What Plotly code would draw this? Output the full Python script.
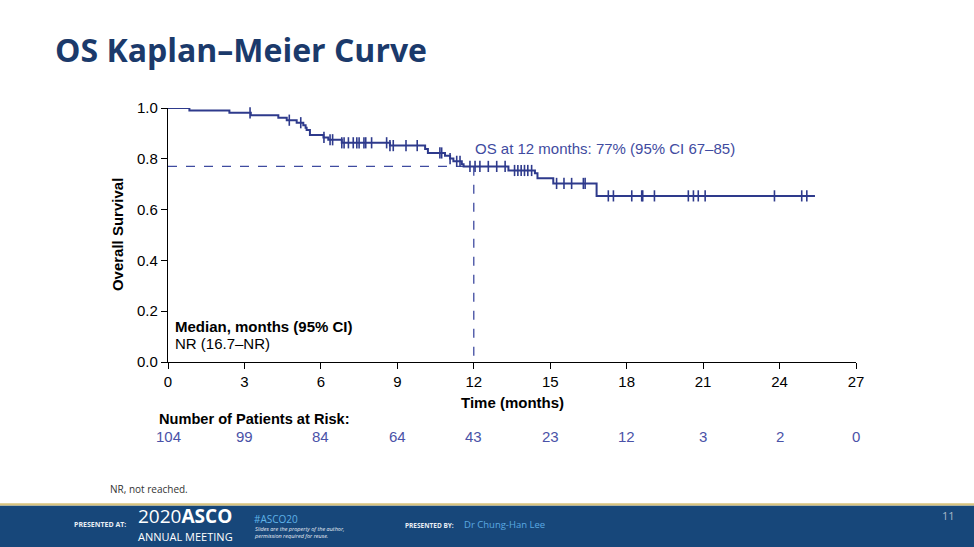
import plotly.graph_objects as go

# Kaplan-Meier step data (time in months, survival probability)
step_times = [0, 0.84, 2.41, 3.25, 4.33, 4.66, 5.05, 5.31, 5.40, 5.44, 5.57, 6.10, 6.29, 6.82,
              8.71, 10.09, 10.20, 10.87, 11.07, 11.20, 11.53, 11.60, 13.36, 14.40, 14.50,
              15.12, 16.82]
step_surv = [1.0, 0.990, 0.981, 0.971, 0.962, 0.952, 0.942, 0.932, 0.922, 0.913, 0.894,
             0.884, 0.875, 0.863, 0.852, 0.839, 0.823, 0.812, 0.801, 0.790, 0.779, 0.770,
             0.754, 0.743, 0.723, 0.703, 0.654]
end_time = 25.39

censor_times = [3.22, 4.76, 5.21, 6.12, 6.36, 6.46, 6.82, 6.91, 7.08, 7.27, 7.41, 7.50,
                7.69, 7.76, 7.99, 8.58, 8.71, 8.84, 9.34, 9.78, 10.67, 10.74, 11.07, 11.33,
                11.46, 11.85, 12.05, 12.24, 12.57, 12.90, 13.23, 13.60, 13.73, 13.86, 13.99,
                14.12, 14.27, 15.25, 15.54, 15.84, 16.30, 16.37, 17.28, 17.48, 18.20, 18.59,
                18.63, 19.09, 20.42, 20.62, 20.81, 21.08, 23.80, 24.87, 25.07]

x_ticks = [0, 3, 6, 9, 12, 15, 18, 21, 24, 27]
y_ticks = [0.0, 0.2, 0.4, 0.6, 0.8, 1.0]
y_tick_labels = ["0.0", "0.2", "0.4", "0.6", "0.8", "1.0"]
risk_times = [0, 3, 6, 9, 12, 15, 18, 21, 24, 27]
at_risk = [104, 99, 84, 64, 43, 23, 12, 3, 2, 0]

os12_time = 12
os12_surv = 0.77

CURVE = "#2e3a8c"
ANNOT = "#3f4ba0"
FONT = "Liberation Sans, Arial, sans-serif"


def surv_at(t):
    s = step_surv[0]
    for tt, ss in zip(step_times, step_surv):
        if tt <= t:
            s = ss
    return s


fig = go.Figure()

# dashed reference lines
fig.add_trace(go.Scatter(x=[0, os12_time, os12_time], y=[os12_surv, os12_surv, 0],
                         mode="lines", line=dict(color=ANNOT, width=1.3, dash="dash"),
                         hoverinfo="skip", showlegend=False, cliponaxis=False))

# KM step curve
fig.add_trace(go.Scatter(x=step_times + [end_time], y=step_surv + [step_surv[-1]],
                         mode="lines", line=dict(color=CURVE, width=2, shape="hv"),
                         showlegend=False, cliponaxis=False))

# censor marks
fig.add_trace(go.Scatter(x=censor_times, y=[surv_at(t) for t in censor_times],
                         mode="markers",
                         marker=dict(symbol="line-ns", size=8,
                                     line=dict(color=CURVE, width=1.6)),
                         showlegend=False, cliponaxis=False))

fig.update_layout(
    width=974, height=547,
    margin=dict(l=168, r=118, t=108, b=185),
    paper_bgcolor="white", plot_bgcolor="white",
    font=dict(family=FONT, size=15, color="black"),
    showlegend=False,
    xaxis=dict(range=[0, 27], tickvals=x_ticks, ticks="outside", ticklen=6,
               tickcolor="black", showline=True, linecolor="black", linewidth=1.2,
               showgrid=False, zeroline=False, tickfont=dict(size=15)),
    yaxis=dict(range=[0, 1.0], tickvals=y_ticks, ticktext=y_tick_labels,
               ticks="outside", ticklen=6, tickcolor="black", showline=True,
               linecolor="black", linewidth=1.2, showgrid=False, zeroline=False,
               tickfont=dict(size=15)),
)

fig.add_annotation(text="<b>Overall Survival</b>", xref="paper", yref="paper",
                   x=-0.074, y=0.5, xanchor="center", yanchor="middle",
                   showarrow=False, textangle=-90, font=dict(size=15))
fig.add_annotation(text="<b>Time (months)</b>", xref="x", yref="paper",
                   x=13.5, y=-0.16, xanchor="center", yanchor="middle",
                   showarrow=False, font=dict(size=15))

# OS at 12 months
fig.add_annotation(text="OS at 12 months: 77% (95% CI 67–85)", xref="x", yref="y",
                   x=11.95, y=0.84, xanchor="left", yanchor="middle", showarrow=False,
                   font=dict(size=15, color=ANNOT))

# median box
fig.add_annotation(text="<b>Median, months (95% CI)</b>", xref="x", yref="y",
                   x=0.2, y=0.138, xanchor="left", yanchor="middle", align="left",
                   showarrow=False, font=dict(size=15))
fig.add_annotation(text="NR (16.7–NR)", xref="x", yref="y",
                   x=0.2, y=0.071, xanchor="left", yanchor="middle", align="left",
                   showarrow=False, font=dict(size=15))

# risk table
fig.add_annotation(text="<b>Number of Patients at Risk:</b>", xref="paper", yref="paper",
                   x=-0.016, y=-0.225, xanchor="left", yanchor="middle",
                   showarrow=False, font=dict(size=14.6))
for t, n in zip(risk_times, at_risk):
    fig.add_annotation(text=str(n), xref="x", yref="paper", x=t, y=-0.295,
                       xanchor="center", yanchor="middle", showarrow=False,
                       font=dict(size=15, color="#4a52a8"))

# slide title
fig.add_annotation(text="<b>OS Kaplan–Meier Curve</b>", xref="paper", yref="paper",
                   x=-0.167, y=1.23, xanchor="left", yanchor="middle", showarrow=False,
                   font=dict(family="Open Sans, sans-serif", size=32, color="#1b3a6b"))

# footnote
fig.add_annotation(text="NR, not reached.", xref="paper", yref="paper",
                   x=-0.087, y=-0.5, xanchor="left", yanchor="middle", showarrow=False,
                   font=dict(family="Open Sans, sans-serif", size=10, color="#333333"))

# footer band
fig.add_shape(type="rect", xref="paper", yref="paper", x0=-0.3, x1=1.2,
              y0=-0.75, y1=-0.5645, fillcolor="#17477a", line=dict(width=0), layer="below")
fig.add_shape(type="rect", xref="paper", yref="paper", x0=-0.3, x1=1.2,
              y0=-0.5645, y1=-0.556, fillcolor="#d8c37e", line=dict(width=0), layer="below")

FOOT = "Open Sans, sans-serif"
fig.add_annotation(text="<b>PRESENTED AT:</b>", xref="paper", yref="paper", x=-0.139, y=-0.64,
                   xanchor="left", yanchor="middle", showarrow=False,
                   font=dict(family=FOOT, size=7, color="#e8eef5"))
fig.add_annotation(text="2020<b>ASCO</b>", xref="paper", yref="paper", x=-0.046, y=-0.608,
                   xanchor="left", yanchor="middle", showarrow=False,
                   font=dict(family=FOOT, size=19, color="white"))
fig.add_annotation(text="ANNUAL MEETING", xref="paper", yref="paper", x=-0.046, y=-0.686,
                   xanchor="left", yanchor="middle", showarrow=False,
                   font=dict(family=FOOT, size=11, color="white"))
fig.add_annotation(text="#ASCO20", xref="paper", yref="paper", x=0.122, y=-0.618,
                   xanchor="left", yanchor="middle", showarrow=False,
                   font=dict(family=FOOT, size=10, color="#5fb3e8"))
fig.add_annotation(text="<i>Slides are the property of the author,<br>permission required for reuse.</i>",
                   xref="paper", yref="paper", x=0.122, y=-0.672, xanchor="left",
                   yanchor="middle", align="left", showarrow=False,
                   font=dict(family=FOOT, size=5.5, color="#e8eef5"))
fig.add_annotation(text="<b>PRESENTED BY:</b>", xref="paper", yref="paper", x=0.342, y=-0.642,
                   xanchor="left", yanchor="middle", showarrow=False,
                   font=dict(family=FOOT, size=6.5, color="#e8eef5"))
fig.add_annotation(text="Dr Chung-Han Lee", xref="paper", yref="paper", x=0.428, y=-0.64,
                   xanchor="left", yanchor="middle", showarrow=False,
                   font=dict(family=FOOT, size=9.5, color="#5aa9e2"))
fig.add_annotation(text="11", xref="paper", yref="paper", x=1.135, y=-0.605,
                   xanchor="center", yanchor="middle", showarrow=False,
                   font=dict(family=FOOT, size=11, color="#aab8c8"))

fig.write_html("out.html", config={"displayModeBar": False},
               post_script="document.body.style.margin='0';")
